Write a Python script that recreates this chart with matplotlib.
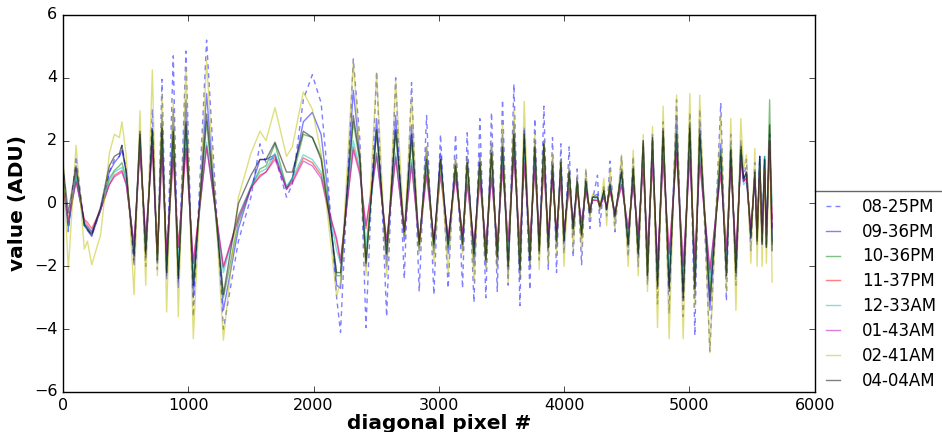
import matplotlib
matplotlib.use('Agg')
from matplotlib import pyplot as plt
from matplotlib.lines import Line2D

# diagonal pixel positions of the turning points
pix = [0, 42, 104, 170, 195, 229, 300, 370, 410, 450, 470, 505, 567, 614, 660, 713, 753, 790, 827, 880,
       920, 981, 1040, 1146, 1280, 1400, 1500, 1572, 1620, 1692, 1784, 1830, 1918, 1990, 2060, 2110, 2184, 2215, 2317, 2370,
       2418, 2503, 2583, 2655, 2724, 2782, 2843, 2902, 2960, 3013, 3074, 3133, 3189, 3226, 3280, 3327, 3375, 3420, 3466, 3508,
       3553, 3599, 3647, 3681, 3726, 3766, 3801, 3838, 3873, 3907, 3939, 3974, 3998, 4040, 4072, 4104, 4139, 4173, 4205, 4226,
       4266, 4285, 4317, 4339, 4366, 4405, 4458, 4511, 4551, 4591, 4631, 4665, 4705, 4745, 4790, 4838, 4897, 4950, 5003, 5043,
       5082, 5163, 5250, 5295, 5330, 5371, 5410, 5432, 5455, 5490, 5522, 5540, 5561, 5580, 5600, 5614, 5640, 5660]

v0825pm = [1.2, -0.9, 1.5, -0.7, -0.85, -1.0, -0.2, 1.0, 1.4, 1.5, 1.85, 1.0, -2.0, 2.2, -2.0, 3.0, -2.1, 3.95, -2.4, 4.7,
           -2.7, 4.85, -3.6, 5.2, -4.0, -1.2, 0.2, 1.9, 1.3, 1.5, 0.2, 0.6, 3.3, 4.1, 3.2, 1.0, -3.0, -4.1, 4.6, 2.0,
           -3.95, 4.2, -3.6, 4.0, -2.4, 3.85, -2.8, 2.8, -2.9, 2.2, -2.7, 2.2, -2.7, 2.25, -3.15, 2.7, -3.0, 2.9, -2.8, 3.3,
           -2.6, 3.8, -3.25, 2.4, -2.75, 2.7, -1.8, 3.1, -2.1, 2.1, -2.2, 1.9, -1.6, 1.8, -1.7, 1.1, -1.95, 1.1, -0.8, 0.1,
           0.9, -0.75, 0.6, -0.4, 1.35, -0.9, 1.5, -1.7, 1.5, -2.0, 1.8, -2.6, 2.2, -3.2, 2.6, -3.5, 3.3, -3.6, 2.9, -4.2,
           3.0, -4.7, 3.2, -3.1, 2.2, -2.6, 1.9, 0.7, 1.4, -1.5, 1.3, -1.3, 1.5, -1.3, 1.5, -1.4, 2.2, -0.8]
v0936pm = [1.0, -0.8, 1.1, -0.7, -0.85, -1.05, -0.2, 1.0, 1.3, 1.5, 1.7, 1.0, -1.6, 2.2, -1.7, 2.4, -1.9, 2.8, -2.3, 3.0,
           -2.5, 3.3, -3.0, 3.5, -3.4, -0.8, 0.5, 1.4, 1.4, 1.55, 0.45, 0.8, 2.6, 2.9, 2.2, 0.5, -2.6, -2.7, 3.6, 1.5,
           -2.0, 2.7, -2.0, 2.8, -1.2, 2.5, -1.5, 1.8, -1.6, 1.6, -1.6, 1.4, -1.5, 1.5, -2.0, 1.6, -2.0, 1.9, -2.0, 2.2,
           -2.2, 2.6, -2.4, 2.4, -2.0, 2.0, -1.6, 2.0, -1.5, 1.4, -1.4, 1.4, -1.3, 1.1, -1.0, 0.8, -1.1, 0.8, -0.4, 0.2,
           0.3, -0.2, 0.4, -0.2, 0.7, -0.5, 1.1, -1.4, 1.2, -1.7, 2.0, -2.4, 2.1, -2.7, 2.4, -2.8, 2.8, -3.1, 2.6, -3.0,
           2.5, -3.4, 1.9, -2.3, 1.8, -2.3, 2.0, 0.7, 1.0, -1.1, 1.0, -1.2, 1.5, -1.3, 1.4, -1.3, 2.0, -1.2]
v1036pm = [0.8, -0.7, 0.9, -0.7, -0.8, -0.95, -0.2, 0.8, 1.05, 1.2, 1.3, 0.8, -1.5, 2.1, -1.5, 2.3, -1.8, 2.5, -2.2, 2.4,
           -2.3, 2.5, -2.6, 2.6, -3.0, -0.6, 0.5, 1.1, 1.2, 1.9, 0.5, 0.8, 2.2, 2.1, 1.5, 0.2, -2.3, -2.3, 2.6, 1.3,
           -1.8, 2.3, -1.6, 2.3, -1.0, 2.0, -1.4, 1.5, -1.4, 1.4, -1.4, 1.2, -1.3, 1.3, -1.7, 1.3, -1.8, 1.6, -1.7, 1.8,
           -2.0, 2.2, -2.1, 2.2, -1.8, 1.8, -1.5, 1.9, -1.4, 1.2, -1.2, 1.3, -1.2, 1.0, -0.8, 0.7, -1.0, 0.7, -0.3, 0.2,
           0.2, -0.1, 0.4, -0.2, 0.6, -0.4, 1.0, -1.3, 1.1, -1.6, 1.9, -2.2, 2.0, -2.5, 2.2, -2.6, 2.3, -2.8, 2.5, -2.7,
           2.3, -2.8, 1.7, -2.2, 1.8, -2.2, 1.8, 0.8, 0.9, -1.0, 1.0, -1.2, 1.4, -1.2, 1.5, -1.4, 3.3, -1.3]
v1137pm = [0.5, -0.5, 0.7, -0.5, -0.6, -0.8, -0.2, 0.6, 0.9, 1.0, 1.05, 0.6, -1.3, 1.7, -1.1, 1.8, -1.6, 1.6, -1.6, 1.5,
           -1.4, 1.75, -1.9, 1.85, -2.05, -0.4, 0.5, 0.9, 1.0, 1.5, 0.5, 0.7, 1.45, 1.3, 0.9, 0.0, -1.2, -1.9, 1.8, 1.0,
           -0.8, 1.6, -1.2, 1.5, -0.9, 1.3, -1.2, 1.0, -1.2, 1.0, -1.1, 0.9, -1.0, 0.7, -1.3, 0.8, -1.3, 0.9, -1.3, 1.2,
           -1.2, 1.5, -1.3, 1.3, -1.2, 1.1, -1.0, 1.1, -1.0, 0.8, -0.9, 0.8, -0.9, 0.5, -0.6, 0.4, -0.6, 0.4, -0.2, 0.1,
           0.1, -0.1, 0.2, -0.1, 0.4, -0.3, 0.6, -0.8, 0.6, -1.0, 1.2, -1.5, 1.3, -1.9, 1.4, -1.6, 1.6, -2.0, 1.5, -1.8,
           1.4, -2.2, 1.0, -1.5, 1.2, -1.6, 1.4, 0.7, 0.8, -0.8, 0.8, -0.9, 1.0, -0.9, 1.1, -1.0, 2.0, -0.5]
v1233am = [0.7, -0.7, 0.8, -0.65, -0.75, -0.9, -0.2, 0.7, 1.0, 1.1, 1.15, 0.7, -1.4, 1.9, -1.3, 2.0, -1.7, 1.9, -1.9, 1.8,
           -1.8, 2.2, -2.2, 1.95, -2.2, -0.4, 0.55, 1.0, 1.1, 1.6, 0.55, 0.8, 1.55, 1.4, 1.0, 0.0, -1.5, -1.9, 2.0, 1.1,
           -1.3, 1.6, -1.3, 1.6, -0.9, 1.4, -1.2, 1.1, -1.3, 1.1, -1.2, 1.0, -1.1, 0.8, -1.4, 0.9, -1.4, 1.0, -1.4, 1.3,
           -1.4, 1.7, -1.6, 1.5, -1.4, 1.3, -1.1, 1.3, -1.1, 0.9, -1.0, 0.9, -1.0, 0.6, -0.7, 0.5, -0.7, 0.5, -0.2, 0.1,
           0.2, -0.1, 0.3, -0.1, 0.5, -0.3, 0.7, -0.9, 0.7, -1.1, 1.4, -1.7, 1.5, -2.1, 1.6, -2.0, 1.8, -2.2, 1.7, -2.1,
           1.6, -2.4, 1.2, -1.7, 1.3, -1.8, 1.5, 0.6, 0.7, -0.9, 0.8, -1.0, 1.2, -1.0, 1.5, -1.1, 2.0, 0.0]
v0143am = [0.5, -0.6, 0.7, -0.55, -0.7, -0.9, -0.2, 0.6, 0.85, 0.95, 1.0, 0.6, -1.3, 1.75, -1.1, 1.8, -1.6, 1.6, -1.6, 1.5,
           -1.4, 1.75, -1.9, 1.8, -2.0, -0.5, 0.5, 0.85, 1.0, 1.4, 0.45, 0.65, 1.35, 1.2, 0.8, -0.1, -1.1, -1.8, 1.7, 0.9,
           -0.7, 1.5, -1.2, 1.45, -0.9, 1.2, -1.2, 0.9, -1.2, 0.9, -1.1, 0.8, -1.0, 0.6, -1.3, 0.7, -1.3, 0.8, -1.3, 1.1,
           -1.2, 1.5, -1.3, 1.3, -1.2, 1.1, -1.0, 1.1, -1.0, 0.8, -0.9, 0.8, -0.9, 0.5, -0.6, 0.4, -0.6, 0.4, -0.2, 0.1,
           0.1, -0.1, 0.2, -0.1, 0.4, -0.3, 0.6, -0.8, 0.6, -1.0, 1.2, -1.5, 1.3, -1.9, 1.4, -1.6, 1.6, -2.0, 1.5, -1.8,
           1.3, -2.1, 1.0, -1.5, 1.2, -1.6, 1.4, 0.7, 0.8, -0.8, 0.8, -0.9, 1.0, -0.9, 1.1, -1.0, 2.0, -0.8]
v0241am = [1.5, -2.1, 1.85, -1.45, -1.2, -1.95, -1.0, 1.6, 2.2, 2.1, 2.6, 1.5, -2.9, 2.95, -2.6, 4.25, -2.3, 3.5, -3.45, 3.3,
           -3.6, 4.3, -4.3, 4.55, -4.35, 0.2, 1.6, 2.3, 2.0, 3.05, 1.5, 1.8, 3.55, 3.0, 1.6, -0.3, -2.95, -2.5, 4.5, 1.6,
           -2.3, 4.15, -2.3, 3.9, -1.0, 3.4, -1.6, 1.8, -1.9, 1.3, -2.2, 1.5, -1.6, 1.5, -2.5, 1.5, -2.1, 2.0, -2.1, 2.5,
           -2.5, 3.0, -2.4, 3.25, -2.0, 2.2, -2.1, 2.0, -1.9, 1.6, -1.6, 1.4, -2.0, 1.2, -1.5, 0.9, -1.5, 1.1, -0.5, 0.3,
           0.2, -0.2, 0.8, -0.7, 1.1, -0.8, 1.55, -2.0, 1.7, -2.3, 2.2, -2.8, 2.45, -3.95, 3.1, -4.3, 3.45, -4.3, 3.5, -3.3,
           3.45, -4.75, 2.8, -2.8, 2.7, -3.4, 2.7, 1.1, 1.55, -1.9, 1.75, -2.0, 1.2, -2.0, 1.1, -1.9, 2.0, -2.5]
v0404am = [1.2, -0.3, 1.2, -0.65, -0.8, -1.0, -0.1, 1.2, 1.5, 1.6, 1.85, 1.0, -1.8, 2.3, -1.6, 2.35, -1.8, 2.4, -2.2, 2.3,
           -2.4, 2.6, -2.6, 2.85, -2.9, 0.0, 0.9, 1.4, 1.4, 1.95, 1.0, 1.0, 2.3, 2.1, 1.4, 0.0, -2.2, -2.2, 2.8, 1.4,
           -1.9, 2.35, -1.6, 2.35, -0.9, 2.2, -1.3, 1.4, -1.3, 1.4, -1.3, 1.2, -1.3, 1.3, -1.6, 1.3, -1.8, 1.6, -1.7, 1.8,
           -2.0, 2.2, -2.1, 2.2, -1.8, 1.8, -1.5, 1.9, -1.4, 1.2, -1.2, 1.3, -1.2, 1.0, -0.8, 0.7, -1.0, 0.7, -0.3, 0.2,
           0.2, -0.1, 0.4, -0.2, 0.6, -0.4, 1.0, -1.3, 1.1, -1.6, 2.0, -2.3, 2.1, -2.6, 2.3, -2.7, 2.2, -3.0, 2.4, -2.7,
           2.2, -3.1, 1.5, -2.3, 1.7, -2.2, 1.7, 0.8, 1.0, -1.1, 1.0, -1.2, 1.5, -1.3, 1.4, -1.4, 2.5, -1.5]

labels = ['08-25PM', '09-36PM', '10-36PM', '11-37PM', '12-33AM', '01-43AM', '02-41AM', '04-04AM']
series = [v0825pm, v0936pm, v1036pm, v1137pm, v1233am, v0143am, v0241am, v0404am]
colors = ['b', 'b', 'g', 'r', 'c', 'm', 'y', 'k']

plt.style.use('classic')
fig = plt.figure(figsize=(9.42, 4.32), dpi=100, facecolor='white')
ax = fig.add_axes([0.0669, 0.0926, 0.798, 0.8727])

for i in range(len(series)):
    if i == 0:
        ax.plot(pix, series[i], color=colors[i], ls='--', dashes=(3.5, 3), lw=1, alpha=0.5, label=labels[i])
    else:
        ax.plot(pix, series[i], color=colors[i], lw=1, alpha=0.5, label=labels[i])

ax.set_xlim(0, 6000)
ax.set_ylim(-6, 6)
ax.set_xticks(range(0, 6001, 1000))
ax.set_yticks(range(-6, 7, 2))
ax.tick_params(labelsize=11.5)
ax.set_xlabel('diagonal pixel #', fontsize=14.5, fontweight='bold', labelpad=1)
ax.set_ylabel('value (ADU)', fontsize=14.5, fontweight='bold')

# legend sits outside the axes and runs off the bottom/right of the figure,
# so only its top edge is drawn
leg_top = 0.533
ax.legend(loc='upper left', bbox_to_anchor=(1.0, leg_top), borderaxespad=0, fontsize=12,
          frameon=False, borderpad=0.4, handlelength=1.44, handletextpad=0.98, labelspacing=0.41)
ax.add_line(Line2D([1.0, 1.25], [leg_top, leg_top], transform=ax.transAxes, color='0.4',
                   lw=1, clip_on=False))

fig.savefig('out.png', dpi=100, facecolor='white')
